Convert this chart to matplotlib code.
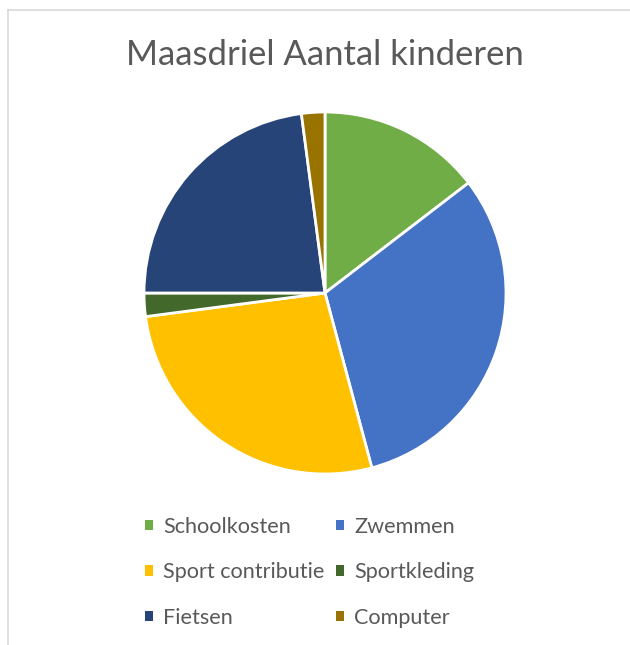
import matplotlib
matplotlib.use("Agg")
import matplotlib.pyplot as plt
from matplotlib.lines import Line2D
from matplotlib.patches import Patch

categories = ["Schoolkosten", "Zwemmen", "Sport contributie", "Sportkleding", "Fietsen", "Computer"]
values = [7, 15, 13, 1, 11, 1]
colors = ["#70AD47", "#4472C4", "#FFC000", "#43682B", "#264478", "#997300"]
title = "Maasdriel Aantal kinderen"

plt.rcParams['font.family'] = ['Lato', 'DejaVu Sans']
W, H = 630, 645
fig = plt.figure(figsize=(W / 100, H / 100), dpi=100)
fig.patch.set_facecolor("white")

# chart frame (cut off at right/bottom)
fig.add_artist(Line2D([8 / W, 1.0], [1 - 10 / H, 1 - 10 / H], color="#D9D9D9", lw=1.2, transform=fig.transFigure))
fig.add_artist(Line2D([8 / W, 8 / W], [0.0, 1 - 10 / H], color="#D9D9D9", lw=1.2, transform=fig.transFigure))

cx, cy, r = 325, 293, 181
ax = fig.add_axes([(cx - r) / W, (H - cy - r) / H, 2 * r / W, 2 * r / H])
wedges, _ = ax.pie(values, colors=colors, startangle=90, counterclock=False,
                   wedgeprops=dict(edgecolor="white", linewidth=2))
ax.set_xlim(-1, 1)
ax.set_ylim(-1, 1)
ax.set_aspect("equal")
ax.axis("off")

fig.text(cx / W, 1 - 55 / H, title, ha="center", va="center", fontsize=24.9, color="#595959")

# legend: rows in reading order, two columns
order = [0, 2, 4, 1, 3, 5]
handles = [Patch(facecolor=colors[i], edgecolor="none") for i in order]
labels = [categories[i] for i in order]
leg = fig.legend(handles, labels, ncol=2, loc="upper left",
                 bbox_to_anchor=(134 / W, 1 - 506 / H), frameon=False,
                 fontsize=15.6, labelcolor="#595959", handlelength=0.37, handleheight=0.37,
                 handletextpad=0.46, columnspacing=0.55, labelspacing=1.18, borderpad=0)

fig.savefig("out.png", dpi=100)
